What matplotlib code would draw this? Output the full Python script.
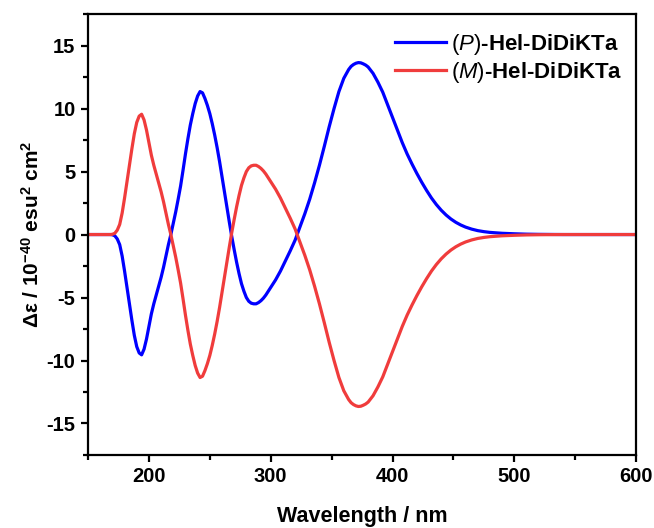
import matplotlib
matplotlib.use("Agg")
import matplotlib.pyplot as plt
from matplotlib.ticker import MultipleLocator

plt.rcParams["font.family"] = ["Liberation Sans", "DejaVu Sans"]
plt.rcParams["mathtext.fontset"] = "custom"
plt.rcParams["mathtext.rm"] = "Liberation Sans"
plt.rcParams["mathtext.it"] = "Liberation Sans:italic"
plt.rcParams["mathtext.bf"] = "Liberation Sans:bold"
plt.rcParams["axes.unicode_minus"] = False

# Simulated ECD spectra of the two enantiomers
wavelength = [150, 160, 168, 170, 172, 174, 176, 178, 180, 182, 184, 186, 188, 190,
              192, 194, 196, 198, 200, 202, 204, 206, 208, 210, 212, 214, 216, 218,
              220, 222, 224, 226, 228, 230, 232, 234, 236, 238, 240, 242, 244, 246,
              248, 250, 252, 254, 256, 258, 260, 262, 264, 266, 268, 270, 272, 274,
              276, 278, 280, 282, 284, 286, 288, 290, 292, 294, 296, 298, 300, 304,
              308, 312, 316, 320, 324, 328, 332, 336, 340, 344, 348, 352, 356, 360,
              364, 366, 368, 370, 372, 374, 376, 378, 380, 384, 388, 392, 396, 400,
              404, 408, 412, 416, 420, 424, 428, 432, 436, 440, 444, 448, 452, 456,
              460, 465, 470, 475, 480, 490, 500, 510, 520, 540, 560, 580, 600]

p_delta_eps = [0, 0, 0, -0.02, -0.1, -0.35, -0.8, -1.7, -2.9, -4.2, -5.5, -6.8, -8.0, -8.9,
               -9.4, -9.55, -9.1, -8.3, -7.3, -6.3, -5.5, -4.8, -4.1, -3.4, -2.6, -1.7, -0.8, 0.0,
               0.9, 1.8, 2.8, 3.85, 5.1, 6.4, 7.6, 8.7, 9.6, 10.4, 11.0, 11.35, 11.25, 10.8,
               10.25, 9.6, 8.8, 7.9, 6.9, 5.8, 4.6, 3.4, 2.2, 1.0, -0.15, -1.2, -2.2, -3.1,
               -3.9, -4.5, -5.0, -5.3, -5.45, -5.5, -5.5, -5.4, -5.25, -5.05, -4.8, -4.5, -4.2, -3.6,
               -2.9, -2.1, -1.3, -0.45, 0.6, 1.65, 2.8, 4.1, 5.5, 7.0, 8.55, 10.0, 11.35, 12.4,
               13.1, 13.35, 13.5, 13.6, 13.65, 13.63, 13.55, 13.45, 13.3, 12.8, 12.1, 11.3, 10.3, 9.3,
               8.3, 7.3, 6.4, 5.6, 4.85, 4.15, 3.5, 2.9, 2.38, 1.93, 1.55, 1.23, 0.97, 0.76,
               0.59, 0.43, 0.31, 0.23, 0.17, 0.1, 0.06, 0.03, 0.015, 0, 0, 0, 0]

m_delta_eps = [0, 0, 0, 0.02, 0.1, 0.35, 0.8, 1.7, 2.9, 4.2, 5.5, 6.8, 8.0, 8.9,
               9.4, 9.55, 9.1, 8.3, 7.3, 6.3, 5.5, 4.8, 4.1, 3.4, 2.6, 1.7, 0.8, 0.0,
               -0.9, -1.8, -2.8, -3.85, -5.1, -6.4, -7.6, -8.7, -9.6, -10.4, -11.0, -11.35, -11.25, -10.8,
               -10.25, -9.6, -8.8, -7.9, -6.9, -5.8, -4.6, -3.4, -2.2, -1.0, 0.15, 1.2, 2.2, 3.1,
               3.9, 4.5, 5.0, 5.3, 5.45, 5.5, 5.5, 5.4, 5.25, 5.05, 4.8, 4.5, 4.2, 3.6,
               2.9, 2.1, 1.3, 0.45, -0.6, -1.65, -2.8, -4.1, -5.5, -7.0, -8.55, -10.0, -11.35, -12.4,
               -13.1, -13.35, -13.5, -13.6, -13.65, -13.63, -13.55, -13.45, -13.3, -12.8, -12.1, -11.3, -10.3, -9.3,
               -8.3, -7.3, -6.4, -5.6, -4.85, -4.15, -3.5, -2.9, -2.38, -1.93, -1.55, -1.23, -0.97, -0.76,
               -0.59, -0.43, -0.31, -0.23, -0.17, -0.1, -0.06, -0.03, -0.015, 0, 0, 0, 0]

HYPHEN = "\u2010"
label_p = "$\\mathrm{(}\\mathit{P}\\mathrm{)}\\mathbf{" + HYPHEN + "Hel" + HYPHEN + "DiDiKTa}$"
label_m = "$\\mathrm{(}\\mathit{M}\\mathrm{)}\\mathbf{" + HYPHEN + "Hel" + HYPHEN + "DiDiKTa}$"

fig = plt.figure(figsize=(6.54, 5.28), dpi=100)
ax = fig.add_axes([0.1346, 0.1383, 0.838, 0.835])

ax.plot(wavelength, p_delta_eps, color="#0000FF", lw=2.3, label=label_p)
ax.plot(wavelength, m_delta_eps, color="#F03C3C", lw=2.3, label=label_m)

ax.set_xlim(150, 600)
ax.set_ylim(-17.5, 17.5)
ax.xaxis.set_major_locator(MultipleLocator(100))
ax.xaxis.set_minor_locator(MultipleLocator(50))
ax.yaxis.set_major_locator(MultipleLocator(5))
ax.yaxis.set_minor_locator(MultipleLocator(2.5))

for side in ["left", "bottom", "top", "right"]:
    ax.spines[side].set_linewidth(1.6)
ax.tick_params(which="major", direction="out", length=5, width=1.6, labelsize=14.5, pad=4)
ax.tick_params(which="minor", direction="out", length=3.5, width=1.6)
ax.tick_params(top=False, right=False, which="both")
for lab in ax.get_xticklabels() + ax.get_yticklabels():
    lab.set_fontweight("bold")

ax.set_xlabel("Wavelength / nm", fontsize=15.5, fontweight="bold", labelpad=14)
ax.set_ylabel("$\\mathbf{\\Delta\\varepsilon}$ / 10$^{\\mathbf{-40}}$ esu$^{\\mathbf{2}}$ cm$^{\\mathbf{2}}$",
              fontsize=15, fontweight="bold", labelpad=3)

leg = ax.legend(loc="upper right", frameon=False, fontsize=16, handlelength=2.3,
                handletextpad=0.25, labelspacing=0.15, borderaxespad=0.2,
                bbox_to_anchor=(1.0, 0.99))

fig.savefig("out.png", dpi=100)
